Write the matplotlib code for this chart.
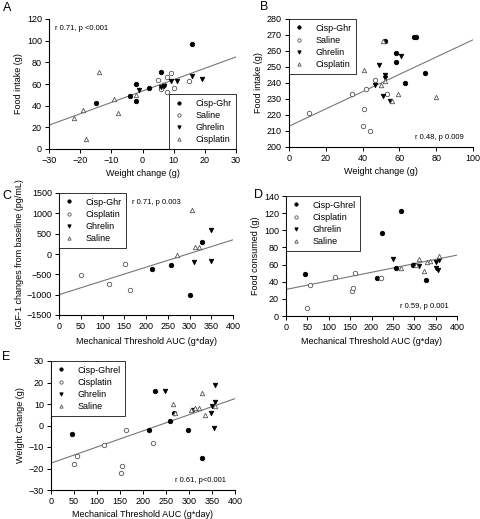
import matplotlib
matplotlib.use("Agg")
import matplotlib.pyplot as plt
import numpy as np

plt.rcParams['font.family'] = ['Liberation Sans', 'DejaVu Sans']
plt.rcParams['font.size'] = 6.5

# ---------------- Data ----------------
# Panel A: weight change (g) vs food intake (g)
A_cg_x = [16, 6, -2, -15, -4, -2, 2, 6]
A_cg_y = [97, 71, 60, 42, 49, 44, 56, 56]
A_sal_x = [5, 8, 9, 7, 6, 8, 10, 15]
A_sal_y = [64, 66, 70, 59, 55, 53, 56, 63]
A_ghr_x = [-1, 7, 9, 11, 16, 19, 6]
A_ghr_y = [54, 58, 63, 63, 67, 65, 57]
A_cis_x = [-14, -22, -19, -9, -8, -18, -2]
A_cis_y = [71, 29, 36, 46, 33, 9, 50]
A_fit = [22, 85]  # y at x=-30 and x=30

# Panel B
B_cg_x = [52, 58, 58, 68, 69, 74, 63]
B_cg_y = [266, 259, 253, 269, 269, 246, 240]
B_sal_x = [11, 34, 42, 47, 41, 40, 44, 53]
B_sal_y = [221, 233, 236, 242, 224, 213, 210, 233]
B_ghr_x = [49, 61, 52, 52, 47, 51, 55]
B_ghr_y = [251, 257, 245, 243, 239, 232, 229]
B_cis_x = [41, 51, 50, 52, 59, 56, 80]
B_cis_y = [248, 266, 239, 241, 233, 229, 231]
B_fit = [213, 267]  # y at x=0 and x=100

# Panel C: mechanical threshold AUC vs IGF-1 change
C_cg_x = [213, 258, 300, 328]
C_cg_y = [-380, -260, -1000, 290]
C_cis_x = [50, 115, 152, 163]
C_cis_y = [-520, -730, -250, -880]
C_ghr_x = [310, 350, 350]
C_ghr_y = [-200, 600, -160]
C_sal_x = [305, 312, 322, 272]
C_sal_y = [1070, 180, 180, -30]
C_fit = [-1000, 350]  # y at x=0 and x=400

# Panel D: AUC vs food consumed
D_cg_x = [45, 224, 268, 212, 257, 298, 328]
D_cg_y = [49, 97, 123, 44, 56, 60, 42]
D_cis_x = [50, 57, 115, 162, 155, 156, 222]
D_cis_y = [9, 36, 46, 50, 29, 33, 44]
D_ghr_x = [250, 310, 350, 357, 350, 355, 300]
D_ghr_y = [67, 58, 63, 65, 56, 54, 60]
D_sal_x = [270, 310, 322, 338, 357, 305, 330]
D_sal_y = [56, 66, 53, 64, 70, 60, 63]
D_fit = [31, 71]

# Panel E: AUC vs weight change
E_cg_x = [45, 225, 268, 258, 212, 298, 328]
E_cg_y = [-4, 16, 6, 2, -2, -2, -15]
E_cis_x = [50, 57, 115, 162, 152, 155, 222]
E_cis_y = [-18, -14, -9, -2, -22, -19, -8]
E_ghr_x = [248, 308, 350, 348, 357, 357, 355]
E_ghr_y = [16, 7, 9, 6, 19, 11, -1]
E_sal_x = [265, 270, 305, 312, 322, 328, 335, 357]
E_sal_y = [10, 6, 7, 8, 8, 15, 5, 9]
E_fit = [-17.5, 12.5]

W, H = 480, 519
fig = plt.figure(figsize=(W / 100, H / 100), dpi=100)

def ax_px(l, r, t, b):
    return fig.add_axes([l / W, 1 - b / H, (r - l) / W, (b - t) / H])

ms = 3.2
styles = {
    'cg': dict(marker='o', color='black', markerfacecolor='black', markeredgecolor='black'),
    'sal': dict(marker='o', markerfacecolor='white', markeredgecolor='#555555'),
    'ghr': dict(marker='v', markerfacecolor='black', markeredgecolor='black'),
    'cis': dict(marker='^', markerfacecolor='white', markeredgecolor='#555555'),
}

def style_ax(ax):
    for s in ['top', 'right']:
        ax.spines[s].set_visible(False)
    for s in ['left', 'bottom']:
        ax.spines[s].set_linewidth(0.8)
    ax.tick_params(direction='out', length=3, width=0.7, labelsize=6.5, pad=2)

def scatter(ax, x, y, key, label):
    ax.plot(x, y, linestyle='none', markersize=ms, markeredgewidth=0.6,
            label=label, **styles[key])

def legend(ax, loc):
    leg = ax.legend(loc=loc, frameon=True, fancybox=False, borderaxespad=0,
                    fontsize=6.5, handlelength=1.2, handletextpad=1.2,
                    labelspacing=0.35, borderpad=0.5, markerscale=0.75)
    leg.get_frame().set_edgecolor('black')
    leg.get_frame().set_linewidth(0.7)
    return leg

# ---------- A ----------
ax = ax_px(49, 236, 19, 149)
scatter(ax, A_cg_x, A_cg_y, 'cg', 'Cisp-Ghr')
scatter(ax, A_sal_x, A_sal_y, 'sal', 'Saline')
scatter(ax, A_ghr_x, A_ghr_y, 'ghr', 'Ghrelin')
scatter(ax, A_cis_x, A_cis_y, 'cis', 'Cisplatin')
ax.plot([-30, 30], A_fit, color='#777777', lw=0.8, zorder=1)
ax.set_xlim(-30, 30); ax.set_ylim(0, 120)
ax.set_xticks(range(-30, 31, 10)); ax.set_yticks(range(0, 121, 20))
ax.set_xlabel('Weight change (g)', fontsize=6.5, labelpad=3)
ax.set_ylabel('Food intake (g)', fontsize=6.5, labelpad=3)
ax.text(0.03, 0.95, 'r 0.71, p <0.001', transform=ax.transAxes, fontsize=5.5, va='top')
style_ax(ax)
legend(ax, 'lower right')
fig.text(3 / W, 1 - 8 / H, 'A', fontsize=9, va='center')

# ---------- B ----------
ax = ax_px(289, 473, 19, 147)
scatter(ax, B_cg_x, B_cg_y, 'cg', 'Cisp-Ghr')
scatter(ax, B_sal_x, B_sal_y, 'sal', 'Saline')
scatter(ax, B_ghr_x, B_ghr_y, 'ghr', 'Ghrelin')
scatter(ax, B_cis_x, B_cis_y, 'cis', 'Cisplatin')
ax.plot([0, 100], B_fit, color='#777777', lw=0.8, zorder=1)
ax.set_xlim(0, 100); ax.set_ylim(200, 280)
ax.set_xticks(range(0, 101, 20)); ax.set_yticks(range(200, 281, 10))
ax.set_xlabel('Weight change (g)', fontsize=6.5, labelpad=3)
ax.set_ylabel('Food intake (g)', fontsize=6.5, labelpad=3)
ax.text(0.95, 0.05, 'r 0.48, p 0.009', transform=ax.transAxes, fontsize=5.5, ha='right', va='bottom')
style_ax(ax)
legend(ax, 'upper left')
fig.text(260 / W, 1 - 7 / H, 'B', fontsize=9, va='center')

# ---------- C ----------
ax = ax_px(59, 233, 193, 315)
scatter(ax, C_cg_x, C_cg_y, 'cg', 'Cisp-Ghr')
scatter(ax, C_cis_x, C_cis_y, 'sal', 'Cisplatin')
scatter(ax, C_ghr_x, C_ghr_y, 'ghr', 'Ghrelin')
scatter(ax, C_sal_x, C_sal_y, 'cis', 'Saline')
ax.plot([0, 400], C_fit, color='#777777', lw=0.8, zorder=1)
ax.set_xlim(0, 400); ax.set_ylim(-1500, 1500)
ax.set_xticks(range(0, 401, 50)); ax.set_yticks(range(-1500, 1501, 500))
ax.set_xlabel('Mechanical Threshold AUC (g*day)', fontsize=6.5, labelpad=4)
ax.set_ylabel('IGF-1 changes from baseline (pg/mL)', fontsize=6.5, labelpad=2)
ax.text(0.42, 0.95, 'r 0.71, p 0.003', transform=ax.transAxes, fontsize=5.5, va='top')
style_ax(ax)
legend(ax, 'upper left')
fig.text(2 / W, 1 - 196 / H, 'C', fontsize=9, va='center')

# ---------- D ----------
ax = ax_px(286, 457, 196, 316)
scatter(ax, D_cg_x, D_cg_y, 'cg', 'Cisp-Ghrel')
scatter(ax, D_cis_x, D_cis_y, 'sal', 'Cisplatin')
scatter(ax, D_ghr_x, D_ghr_y, 'ghr', 'Ghrelin')
scatter(ax, D_sal_x, D_sal_y, 'cis', 'Saline')
ax.plot([0, 400], D_fit, color='#777777', lw=0.8, zorder=1)
ax.set_xlim(0, 400); ax.set_ylim(0, 140)
ax.set_xticks(range(0, 401, 50)); ax.set_yticks(range(0, 141, 20))
ax.set_xlabel('Mechanical Threshold AUC (g*day)', fontsize=6.5, labelpad=4)
ax.set_ylabel('Food consumed (g)', fontsize=6.5, labelpad=3)
ax.text(0.95, 0.05, 'r 0.59, p 0.001', transform=ax.transAxes, fontsize=5.5, ha='right', va='bottom')
style_ax(ax)
legend(ax, 'upper left')
fig.text(254 / W, 1 - 195 / H, 'D', fontsize=9, va='center')

# ---------- E ----------
ax = ax_px(51, 235, 361, 490)
scatter(ax, E_cg_x, E_cg_y, 'cg', 'Cisp-Ghrel')
scatter(ax, E_cis_x, E_cis_y, 'sal', 'Cisplatin')
scatter(ax, E_ghr_x, E_ghr_y, 'ghr', 'Ghrelin')
scatter(ax, E_sal_x, E_sal_y, 'cis', 'Saline')
ax.plot([0, 400], E_fit, color='#777777', lw=0.8, zorder=1)
ax.set_xlim(0, 400); ax.set_ylim(-30, 30)
ax.set_xticks(range(0, 401, 50)); ax.set_yticks(range(-30, 31, 10))
ax.set_xlabel('Mechanical Threshold AUC (g*day)', fontsize=6.5, labelpad=3)
ax.set_ylabel('Weight Change (g)', fontsize=6.5, labelpad=3)
ax.text(0.95, 0.05, 'r 0.61, p<0.001', transform=ax.transAxes, fontsize=5.5, ha='right', va='bottom')
style_ax(ax)
legend(ax, 'upper left')
fig.text(2 / W, 1 - 357 / H, 'E', fontsize=9, va='center')

fig.savefig('out.png', dpi=100)
